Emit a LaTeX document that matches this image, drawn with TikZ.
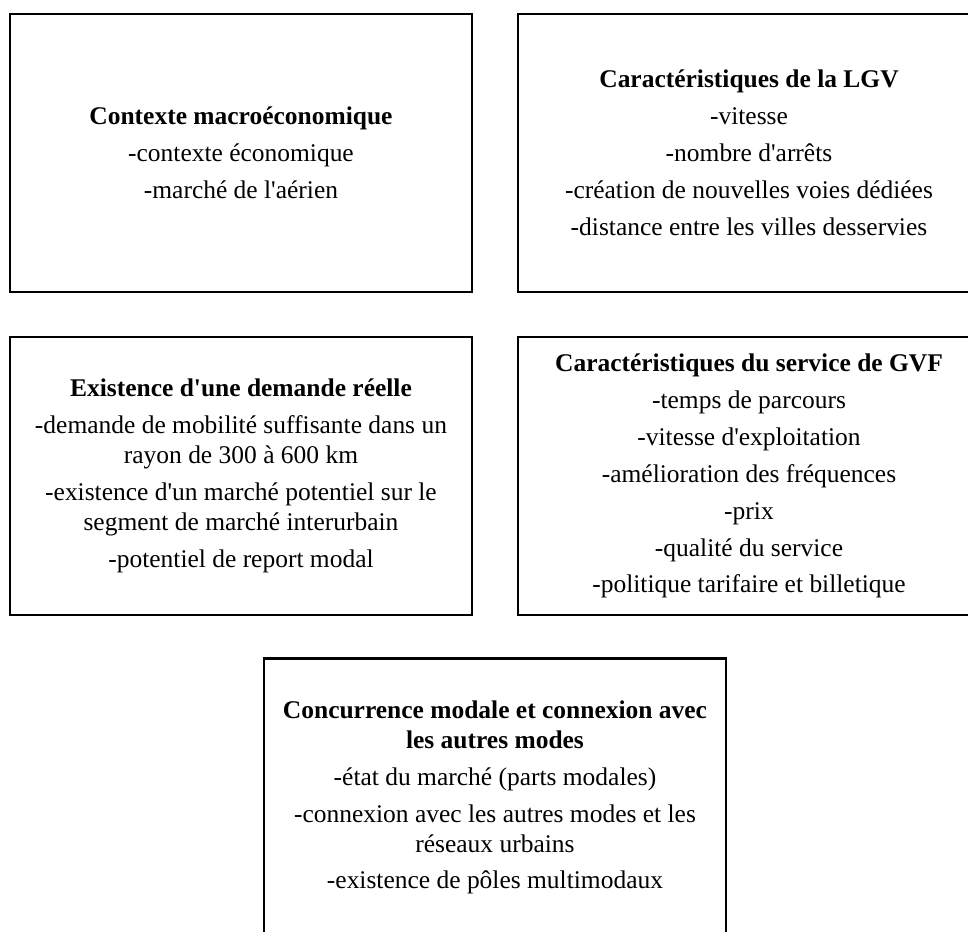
\documentclass[tikz,border=0pt]{standalone}
\usepackage{fontspec}
\setmainfont{Liberation Serif}[Ligatures=TeXOff]
\usetikzlibrary{positioning,calc}

\begin{document}
\begin{tikzpicture}[
  x=0.02cm, y=-0.02cm,
  node distance=0.85cm and 0.87cm,
  box/.style={draw, line width=1.5pt, minimum width=9.24cm, minimum height=5.56cm,
               align=center, inner sep=0pt, font=\fontsize{14.5}{17}\selectfont}
]
\useasboundingbox (0,0) rectangle (968,931);
\clip (0,0) rectangle (968,931);

% Top row
\node[box, anchor=north west] (macro) at (8.7,12.7)
  {\textbf{Contexte macroéconomique}\\[4pt]
   -contexte économique\\[4pt]
   -marché de l'aérien};

\node[box, right=of macro] (lgv)
  {\textbf{Caractéristiques de la LGV}\\[4pt]
   -vitesse\\[4pt]
   -nombre d'arrêts\\[4pt]
   -création de nouvelles voies dédiées\\[4pt]
   -distance entre les villes desservies};

% Middle row
\node[box, below=of macro] (demande)
  {\textbf{Existence d'une demande réelle}\\[4pt]
   -demande de mobilité suffisante dans un\\rayon de 300 à 600 km\\[4pt]
   -existence d'un marché potentiel sur le\\segment de marché interurbain\\[4pt]
   -potentiel de report modal};

\node[box, below=of lgv] (service)
  {\textbf{Caractéristiques du service de GVF}\\[4pt]
   -temps de parcours\\[4pt]
   -vitesse d'exploitation\\[4pt]
   -amélioration des fréquences\\[4pt]
   -prix\\[4pt]
   -qualité du service\\[4pt]
   -politique tarifaire et billetique};

% Bottom box
\node[box, below=0.82cm of $(demande.south)!0.5!(service.south)$] (concurrence)
  {\textbf{Concurrence modale et connexion avec}\\\textbf{les autres modes}\\[4pt]
   -état du marché (parts modales)\\[4pt]
   -connexion avec les autres modes et les\\réseaux urbains\\[4pt]
   -existence de pôles multimodaux};
\end{tikzpicture}
\end{document}
